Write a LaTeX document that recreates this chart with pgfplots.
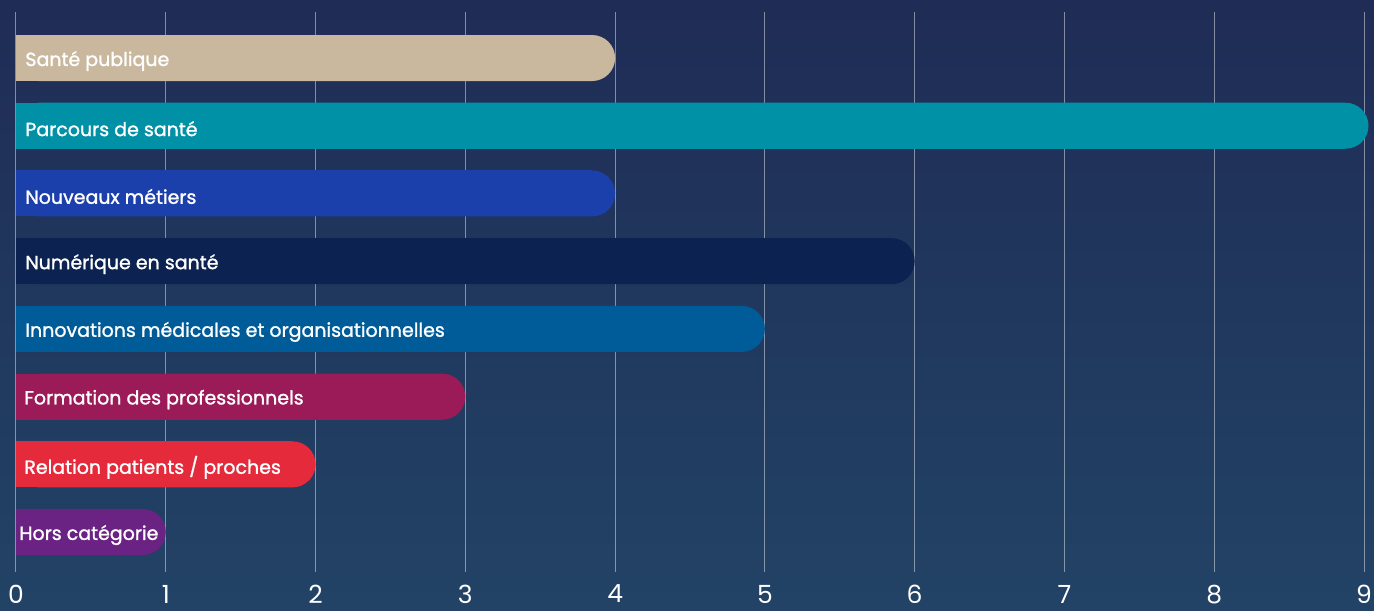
\documentclass[border=0pt]{standalone}
\usepackage{pgfplots}
\pgfplotsset{compat=1.18}
\usepackage{fontspec}
\setmainfont{Poppins}
\newfontfamily\tickfont{Poppins}
\newfontfamily\barfont{Poppins}[FakeBold=1.3]
\definecolor{bgtop}{HTML}{1F2C56}
\definecolor{bgbot}{HTML}{224366}
\definecolor{cA}{HTML}{C9B89E}
\definecolor{cB}{HTML}{0091A7}
\definecolor{cC}{HTML}{1B40AB}
\definecolor{cD}{HTML}{0C2251}
\definecolor{cE}{HTML}{005C99}
\definecolor{cF}{HTML}{9B1A58}
\definecolor{cG}{HTML}{E52A3C}
\definecolor{cH}{HTML}{6A2382}
\newcommand\roundbar[4]{%
  \addplot[xbar,bar width=23pt,bar shift=0pt,fill=#4,draw=none,rounded corners=11.5pt] coordinates {(#1,#3)};
  \addplot[xbar,bar width=23pt,bar shift=0pt,fill=#4,draw=none] coordinates {(#2,#3)};
}
\begin{document}
\begin{tikzpicture}
\useasboundingbox (-8pt,-19pt) rectangle (679pt,286pt);
\shade[top color=bgtop,bottom color=bgbot] (-8pt,-19pt) rectangle (679pt,286pt);
\begin{axis}[
  at={(0,0)}, anchor=south west,
  scale only axis, width=674pt, height=280pt,
  xmin=0, xmax=9, ymin=-0.59, ymax=7.68,
  xtick={0,...,9},
  xmajorgrids, grid style={white,opacity=0.45,line width=0.5pt},
  axis line style={draw=none},
  major tick length=0pt,
  ytick=\empty,
  xticklabel style={font=\tickfont\fontsize{12.5}{14}\selectfont, text=white, yshift=-3pt},
  /pgf/number format/assume math mode=true,
  clip=false,
]
\roundbar{4}{3.84}{7}{cA}
\roundbar{9.03}{8.87}{6}{cB}
\roundbar{4}{3.84}{5}{cC}
\roundbar{6}{5.84}{4}{cD}
\roundbar{5}{4.84}{3}{cE}
\roundbar{3}{2.84}{2}{cF}
\roundbar{2}{1.84}{1}{cG}
\roundbar{1}{0.84}{0}{cH}
\addplot[only marks, mark=none, point meta=explicit symbolic,
  nodes near coords,
  nodes near coords style={anchor=west, inner sep=0pt, yshift=-1.5pt, text=white, font=\barfont\fontsize{9.5}{11}\selectfont}]
  coordinates {
  (0.06,7) [Santé publique]
  (0.06,6) [Parcours de santé]
  (0.06,5) [Nouveaux métiers]
  (0.06,4) [Numérique en santé]
  (0.06,3) [Innovations médicales et organisationnelles]
  (0.053,2) [Formation des professionnels]
  (0.053,1) [Relation patients / proches]
  (0.02,0) [Hors catégorie]
  };
\end{axis}
\end{tikzpicture}
\end{document}
